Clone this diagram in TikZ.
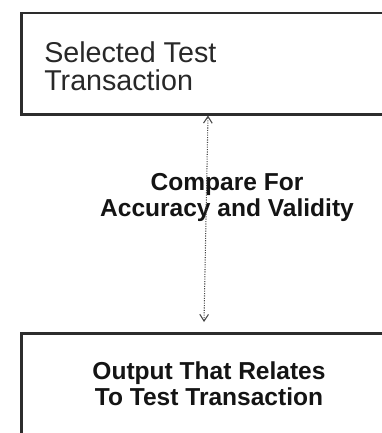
\documentclass[tikz,border=0pt]{standalone}
\usepackage{fontspec}
\setmainfont{Liberation Sans}
\usetikzlibrary{arrows.meta}

\tikzset{
  frame/.style={draw={rgb,255:red,45;green,45;blue,45}, line width=2pt, anchor=north west, inner sep=0pt},
  link/.style={densely dotted, draw={rgb,255:red,70;green,70;blue,70}, line width=0.8pt,
    {Straight Barb[length=5pt,width=6.5pt]}-{Straight Barb[length=5pt,width=6.5pt]}},
  plain/.style={inner sep=0pt, text={rgb,255:red,40;green,40;blue,40}, font=\fontsize{21.5}{21}\selectfont},
  heavy/.style={inner sep=0pt, text={rgb,255:red,20;green,20;blue,20}, font=\fontsize{18.4}{19.5}\selectfont\bfseries}
}

\begin{document}
\begin{tikzpicture}
[x=0.75pt,y=0.75pt,yscale=-1,xscale=1]
\useasboundingbox (0,0) rectangle (382,433);
\clip (0,0) rectangle (382,433);

% boxes, cut off by the page on the right and at the bottom
\node[frame, minimum width=300pt, minimum height=76pt] (selbox) at (20,11.5) {};
\node[frame, minimum width=300pt, minimum height=100pt] (outbox) at (20,332) {};

\node[plain, anchor=west, align=left] (seltext) at (44,66) {Selected Test\\Transaction};
\node[heavy, align=center] (cmptext) at (227,197) {Compare For\\Accuracy and Validity};
\node[heavy, align=center] (outtext) at (209,384) {Output That Relates\\To Test Transaction};

\draw[link] ([xshift=138pt,yshift=-7.5pt]outbox.north west) -- ([xshift=141pt]selbox.south west);

\end{tikzpicture}
\end{document}
